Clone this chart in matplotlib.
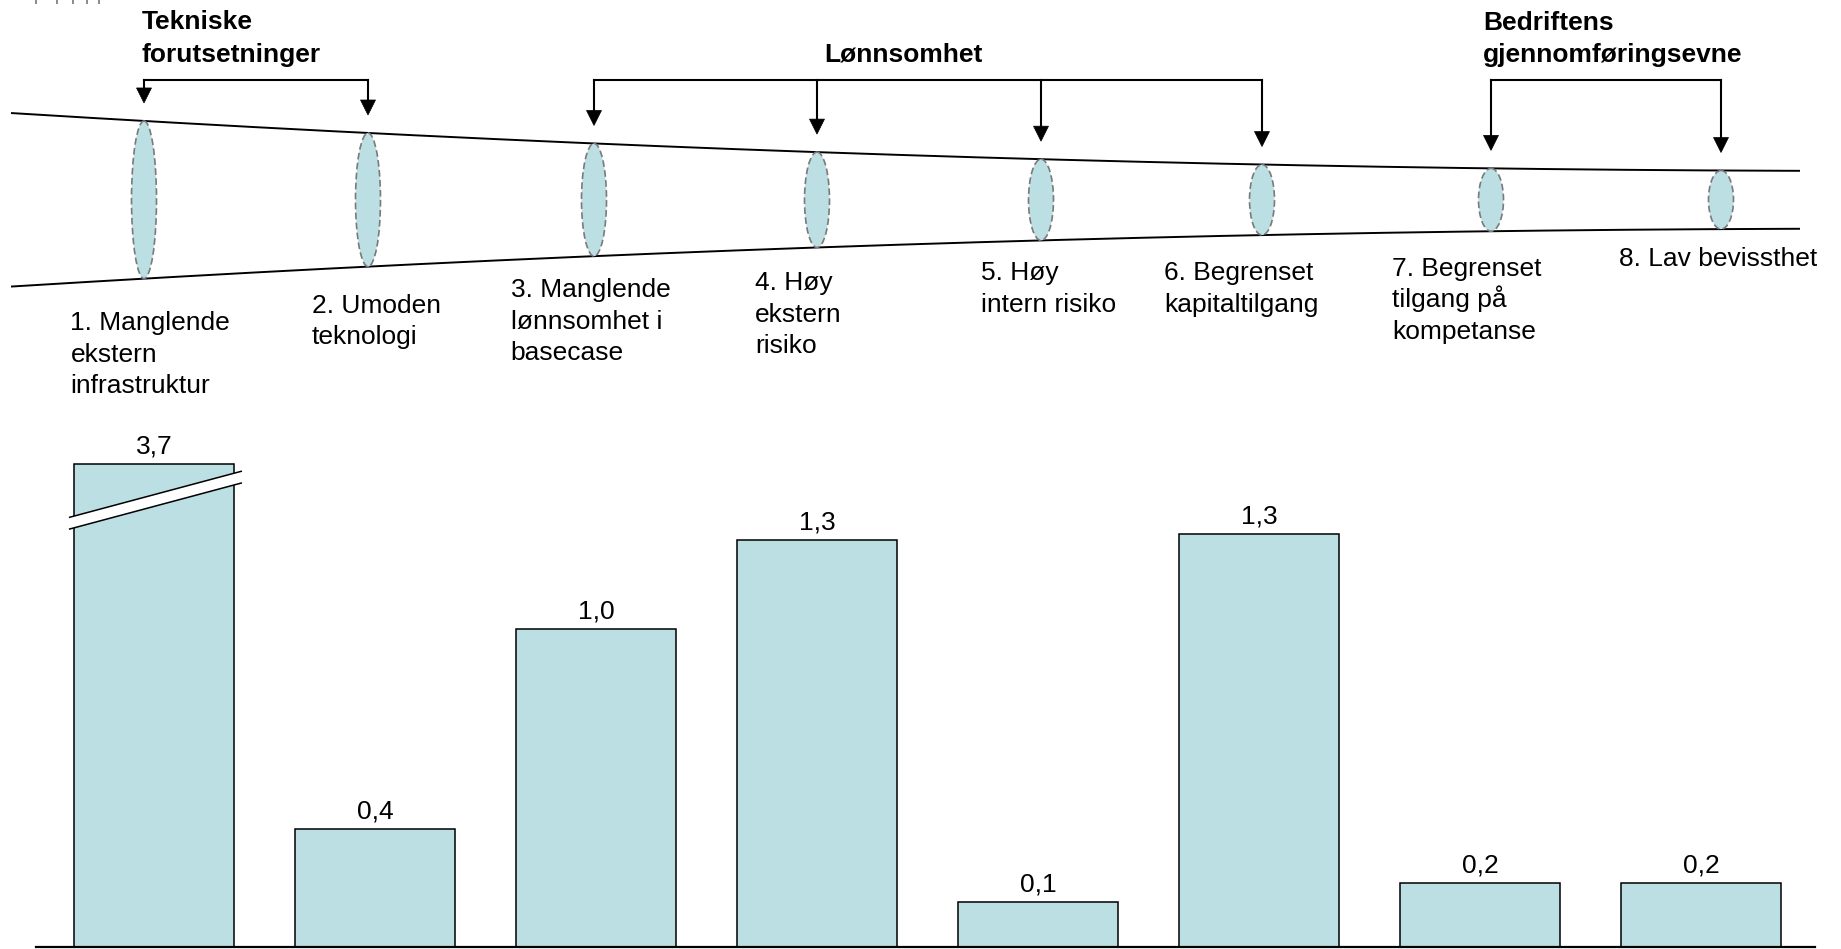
import numpy as np
import matplotlib
matplotlib.use("Agg")
import matplotlib.pyplot as plt
from matplotlib.patches import Ellipse, Polygon

plt.rcParams['font.family'] = ['Liberation Sans', 'DejaVu Sans']

# ---- data -------------------------------------------------------------
categories = [
    "1. Manglende\nekstern\ninfrastruktur",
    "2. Umoden\nteknologi",
    "3. Manglende\nlønnsomhet i\nbasecase",
    "4. Høy\nekstern\nrisiko",
    "5. Høy\nintern risiko",
    "6. Begrenset\nkapitaltilgang",
    "7. Begrenset\ntilgang på\nkompetanse",
    "8. Lav bevissthet",
]
values = [3.7, 0.37, 1.0, 1.28, 0.14, 1.30, 0.20, 0.20]
group_names = ["Tekniske\nforutsetninger", "Lønnsomhet", "Bedriftens\ngjennomføringsevne"]
group_members = [[0, 1], [2, 3, 4, 5], [6, 7]]

# ---- styling ----------------------------------------------------------
FILL = "#BBDFE2"
FS = 19
W, H = 1841, 949

fig = plt.figure(figsize=(W / 100, H / 100), dpi=100)
fig.patch.set_facecolor("white")

# ---- bar chart (lower part) -------------------------------------------
px_left, px_right = 36, 1815
px_base, px_top = 946.7, 380
first_center, step = 154, 221
ax = fig.add_axes([px_left / W, (H - px_base) / H,
                   (px_right - px_left) / W, (px_base - px_top) / H])
ax.patch.set_visible(False)
ax.set_xlim((px_left - first_center) / step, (px_right - first_center) / step)
ax.set_ylim(0, 1.785)
for s in ["top", "left", "right"]:
    ax.spines[s].set_visible(False)
ax.spines["bottom"].set_linewidth(1.6)
ax.spines["bottom"].set_zorder(5)
ax.set_xticks([])
ax.set_yticks([])

cap = 1.52  # axis break for values above this height
shown = [min(v, cap) for v in values]
xs = np.arange(len(values))
bw = 160 / step
ax.bar(xs, shown, width=bw, color=FILL, edgecolor="black", linewidth=1.1, zorder=2)

for x, v, h in zip(xs, values, shown):
    ax.annotate(f"{v:.1f}".replace(".", ","), xy=(x, h), xytext=(0, 7.5),
                textcoords="offset points", ha="center", va="baseline", fontsize=FS)

# break marker on the truncated bar
for x, v in zip(xs, values):
    if v > cap:
        x0, x1 = x - bw / 2 - 0.023, x + bw / 2 + 0.036
        up = [(x0, 1.352), (x1, 1.498)]
        lo = [(x0, 1.315), (x1, 1.461)]
        ax.add_patch(Polygon([up[0], up[1], lo[1], lo[0]], closed=True,
                             facecolor="white", edgecolor="none", zorder=3))
        ax.plot(*zip(*up), color="black", lw=1.1, zorder=4, solid_capstyle="butt")
        ax.plot(*zip(*lo), color="black", lw=1.1, zorder=4, solid_capstyle="butt")

# ---- funnel diagram (upper part, pixel coordinates) --------------------
ov = fig.add_axes([0, 0, 1, 1])
ov.set_xlim(0, W)
ov.set_ylim(H, 0)
ov.axis("off")
ov.patch.set_visible(False)

mid = 199.8


def half_gap(x):
    d = np.asarray(x, dtype=float) - 12
    return 86.7 - 0.06173 * d + 1.647e-5 * d ** 2


fx = np.linspace(12, 1799, 400)
ov.plot(fx, mid - half_gap(fx), color="black", lw=1.4)
ov.plot(fx, mid + half_gap(fx), color="black", lw=1.4)

ellipse_x = [144, 368, 594, 817, 1041, 1262, 1491, 1721]
for ex in ellipse_x:
    hg = float(half_gap(ex))
    ov.add_patch(Ellipse((ex, mid), 25, 2 * hg, facecolor=FILL,
                         edgecolor="#7a7a7a", lw=1.2, linestyle=(0, (4, 2)), zorder=3))

# category labels under the funnel
label_pos = [(70.4, 330), (312, 312.7), (510.6, 297), (755, 290),
             (981, 280), (1164, 280), (1392, 275.7), (1619, 266)]
pitch = 31.7
for text, (lx, ly) in zip(categories, label_pos):
    for i, line in enumerate(text.split("\n")):
        ov.text(lx, ly + i * pitch, line, fontsize=FS, ha="left", va="baseline")

# group brackets with arrows
bracket_y = 80
head_len, head_hw = 15, 7.5
for members in group_members:
    gx = [ellipse_x[m] for m in members]
    ov.plot([gx[0], gx[-1]], [bracket_y, bracket_y], color="black", lw=1.5,
            solid_capstyle="projecting")
    for x in gx:
        tip = mid - float(half_gap(x)) - 18
        ov.plot([x, x], [bracket_y, tip - head_len + 1], color="black", lw=1.5)
        ov.add_patch(Polygon([(x - head_hw, tip - head_len), (x + head_hw, tip - head_len),
                              (x, tip)], closed=True, facecolor="black",
                             edgecolor="black", lw=0.5))

# group headers
header_pos = [(141.7, 29.3, "left"), (903.8, 61.7, "center"), (1482.8, 30.0, "left")]
for name, (hx, hy, ha) in zip(group_names, header_pos):
    for i, line in enumerate(name.split("\n")):
        ov.text(hx, hy + i * 32.2, line, fontsize=FS, fontweight="bold",
                ha=ha, va="baseline")

# clipped fragments along the top edge
for tx in [36, 56.7, 72.7, 87.3, 99]:
    ov.plot([tx, tx], [0, 3], color="#8a8a8a", lw=1.4)

fig.savefig("out.png", dpi=100)
